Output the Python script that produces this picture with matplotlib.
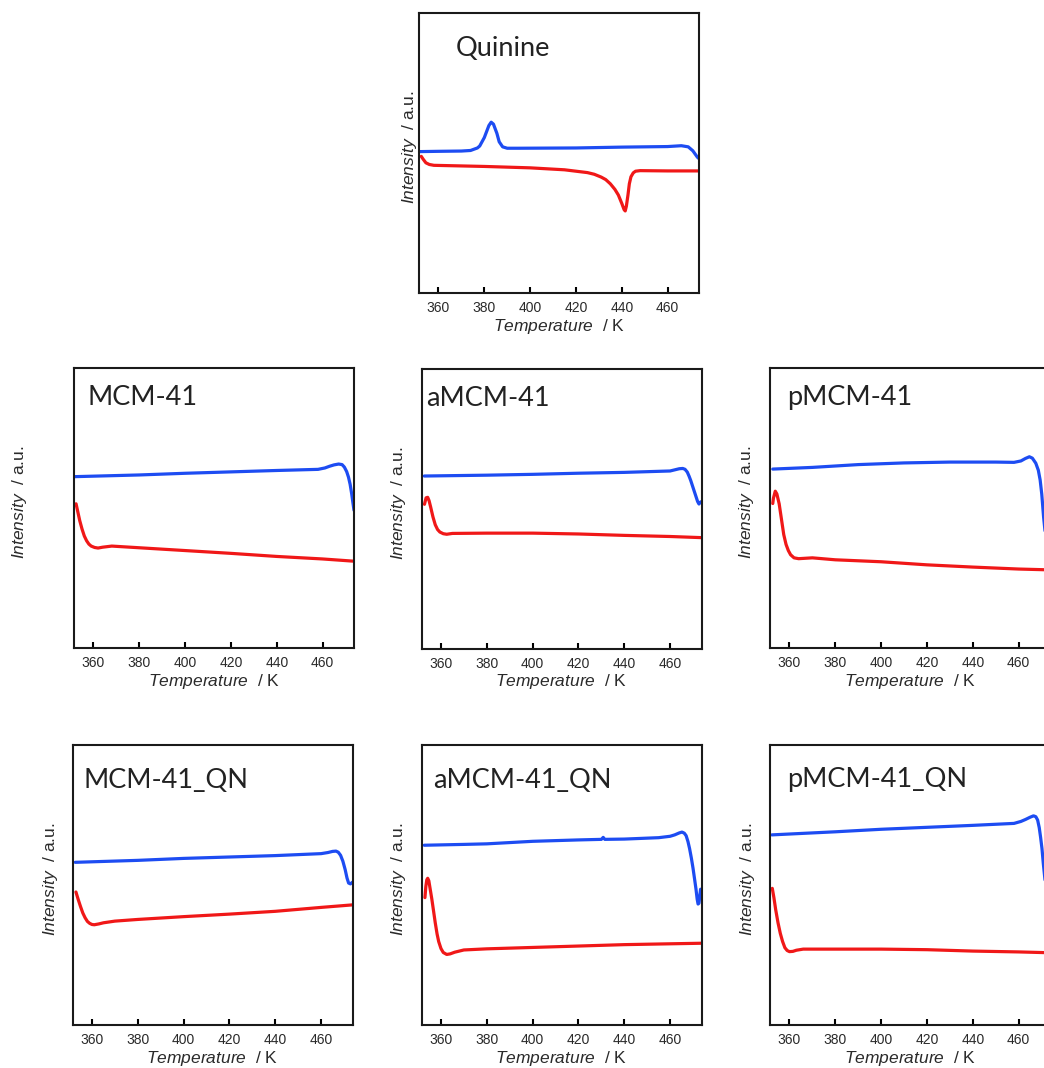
import matplotlib
matplotlib.use("Agg")
import matplotlib.pyplot as plt

plt.rcParams['font.family'] = ['Liberation Sans', 'DejaVu Sans']
plt.rcParams['mathtext.fontset'] = 'custom'
plt.rcParams['mathtext.it'] = 'Liberation Sans:italic'
plt.rcParams['mathtext.rm'] = 'Liberation Sans'

# ---------------- data (temperature K, intensity in % of axis height) ----------------
quinine_blue_T = [352, 360, 370, 374, 377, 378, 380, 382, 383, 384, 385.5, 386.5, 388, 390, 395, 420, 440, 460, 466, 469, 471, 473, 473.7]
quinine_blue_I = [50.5, 50.6, 50.7, 50.9, 51.8, 52.5, 55.5, 59.8, 61.0, 60.3, 57.0, 54.0, 52.2, 51.7, 51.7, 51.8, 52.1, 52.3, 52.6, 52.2, 50.8, 48.5, 48.0]
quinine_red_T = [352.5, 353.3, 354.5, 356, 358, 380, 400, 415, 425, 428, 431, 433, 435, 437, 438.5, 440, 441, 441.5, 442, 442.7, 443.3, 444, 445, 446, 448, 460, 473.7]
quinine_red_I = [48.8, 47.8, 46.5, 45.9, 45.6, 45.2, 44.7, 44.0, 43.0, 42.4, 41.4, 40.5, 39.0, 37.0, 35.0, 32.0, 29.8, 29.3, 31.0, 35.0, 39.0, 41.5, 42.9, 43.5, 43.7, 43.6, 43.6]

mcm_blue_T = [352, 380, 400, 420, 440, 458, 461, 463, 465, 467, 468.5, 469.5, 470.5, 471.3, 472, 472.7, 473.2, 473.7]
mcm_blue_I = [61.2, 61.8, 62.4, 62.9, 63.4, 63.8, 64.3, 64.9, 65.4, 65.7, 65.5, 64.6, 63.0, 61.0, 58.5, 55.0, 52.0, 49.2]
mcm_red_T = [352.4, 353.2, 354, 355, 356, 357, 358, 359, 360.5, 362, 364, 368, 380, 400, 420, 440, 460, 473.7]
mcm_red_I = [51.5, 48.5, 45.5, 42.5, 40.0, 38.3, 37.1, 36.4, 35.9, 35.7, 36.0, 36.4, 35.8, 34.8, 33.8, 32.7, 31.8, 31.0]

amcm_blue_T = [352.7, 380, 400, 420, 440, 460, 462, 464, 465.5, 466.5, 467.5, 468.3, 469, 470, 471, 472, 472.6, 473.1, 473.5]
amcm_blue_I = [61.6, 61.9, 62.2, 62.6, 62.9, 63.4, 63.8, 64.2, 64.3, 64.0, 63.0, 61.5, 60.0, 57.5, 55.0, 52.5, 51.6, 52.2, 52.4]
amcm_red_T = [352.8, 353.5, 354.2, 354.8, 355.5, 356.5, 357.5, 358.5, 359.5, 361, 362.5, 365, 380, 400, 420, 440, 460, 473.5]
amcm_red_I = [51.5, 53.8, 54.0, 52.8, 50.5, 47.0, 44.2, 42.5, 41.6, 41.0, 40.8, 41.1, 41.2, 41.2, 40.9, 40.4, 40.0, 39.6]

pmcm_blue_T = [352.7, 370, 390, 410, 430, 450, 458, 461, 463, 464.7, 466, 467.5, 468.6, 469.4, 470.1, 470.9, 472, 473.7]
pmcm_blue_I = [63.9, 64.5, 65.5, 66.1, 66.4, 66.4, 66.3, 66.8, 67.7, 68.3, 67.8, 66.0, 63.5, 60.0, 55.0, 46.8, 38.0, 30.0]
pmcm_red_T = [352.7, 353, 353.8, 354.5, 355.5, 356.5, 357.5, 358.5, 359.5, 360.5, 362, 364, 370, 380, 400, 420, 440, 460, 473.7]
pmcm_red_I = [51.6, 53.5, 56.0, 55.0, 51.5, 46.0, 40.5, 37.0, 34.8, 33.3, 32.2, 31.9, 32.2, 31.5, 30.8, 29.7, 28.9, 28.2, 27.9]

mcmqn_blue_T = [352.7, 380, 400, 420, 440, 460, 463, 465, 466.5, 467.5, 468.5, 469.5, 470.5, 471.3, 472, 472.8, 473.7]
mcmqn_blue_I = [58.1, 58.8, 59.5, 60.0, 60.5, 61.2, 61.6, 62.0, 62.1, 61.7, 60.6, 58.5, 55.5, 52.5, 50.7, 50.4, 51.0]
mcmqn_red_T = [353, 354, 355, 356, 357, 358, 359, 360, 361, 363, 365, 370, 380, 400, 420, 440, 460, 473.7]
mcmqn_red_I = [47.5, 44.8, 42.3, 40.0, 38.3, 37.0, 36.3, 35.9, 35.8, 36.1, 36.5, 37.1, 37.7, 38.7, 39.6, 40.6, 42.0, 42.9]

amcmqn_blue_T = [352.7, 370, 380, 400, 420, 430, 430.8, 431.5, 440, 455, 460, 462, 464, 465.2, 466.2, 467, 467.8, 468.5, 469.3, 470, 470.7, 471.3, 471.8, 472.2, 472.6, 473, 473.3, 473.7]
amcmqn_blue_I = [64.2, 64.5, 64.7, 65.6, 66.1, 66.3, 67.0, 66.3, 66.4, 66.9, 67.4, 67.9, 68.6, 68.9, 68.5, 67.6, 65.5, 63.0, 59.5, 56.0, 52.0, 48.5, 45.0, 43.2, 43.5, 46.5, 48.5, 47.0]
amcmqn_red_T = [353, 353.4, 353.8, 354.2, 354.7, 355.3, 356, 356.8, 357.5, 358.3, 359, 360, 361, 362.5, 364, 366, 370, 380, 400, 420, 440, 460, 473.7]
amcmqn_red_I = [45.5, 49.5, 51.8, 52.4, 51.5, 48.5, 45.0, 40.5, 36.5, 32.5, 29.8, 27.3, 25.9, 25.2, 25.4, 26.0, 26.8, 27.2, 27.7, 28.2, 28.7, 29.0, 29.2]

pmcmqn_blue_T = [352.3, 380, 400, 420, 440, 458, 461, 463, 465, 466.5, 467.5, 468.3, 469, 469.6, 470.2, 470.8, 472, 473.7]
pmcmqn_blue_I = [67.9, 69.0, 69.9, 70.6, 71.3, 72.0, 72.7, 73.4, 74.2, 74.7, 74.4, 73.2, 70.5, 67.0, 63.0, 57.5, 48.0, 40.0]
pmcmqn_red_T = [352.5, 353.2, 354, 355, 356, 357, 358, 359, 360, 361.5, 363, 366, 380, 400, 420, 440, 460, 473.7]
pmcmqn_red_I = [48.8, 45.5, 41.1, 36.5, 32.7, 29.8, 27.6, 26.6, 26.2, 26.3, 26.7, 27.1, 27.1, 27.1, 26.9, 26.4, 26.1, 25.8]

titles = ["Quinine", "MCM-41", "aMCM-41", "pMCM-41", "MCM-41_QN", "aMCM-41_QN", "pMCM-41_QN"]
series = [
    (quinine_blue_T, quinine_blue_I, quinine_red_T, quinine_red_I),
    (mcm_blue_T, mcm_blue_I, mcm_red_T, mcm_red_I),
    (amcm_blue_T, amcm_blue_I, amcm_red_T, amcm_red_I),
    (pmcm_blue_T, pmcm_blue_I, pmcm_red_T, pmcm_red_I),
    (mcmqn_blue_T, mcmqn_blue_I, mcmqn_red_T, mcmqn_red_I),
    (amcmqn_blue_T, amcmqn_blue_I, amcmqn_red_T, amcmqn_red_I),
    (pmcmqn_blue_T, pmcmqn_blue_I, pmcmqn_red_T, pmcmqn_red_I),
]
xticks = [360, 380, 400, 420, 440, 460]

# ---------------- layout (pixels) ----------------
W, H = 1044, 1068
boxes = [(419, 13), (74, 368), (421.5, 368.5), (770, 368), (72.5, 745), (421.5, 745), (770, 745)]
box_w, box_h = 280, 280
ylabel_off = [0, 45, 14, 14, 13, 14, 13]
title_pos = [(37, 43), (14, 37), (4.5, 37), (17, 37), (11.5, 43), (11.5, 43), (17, 42)]

BLUE = '#1d4cf2'
RED = '#f01818'

fig = plt.figure(figsize=(W / 100, H / 100), dpi=100)

for i, (title, (bT, bI, rT, rI)) in enumerate(zip(titles, series)):
    lx, ty = boxes[i]
    ax = fig.add_axes([lx / W, 1 - (ty + box_h) / H, box_w / W, box_h / H])
    ax.plot(bT, bI, color=BLUE, lw=2.3, solid_capstyle='round', solid_joinstyle='round')
    ax.plot(rT, rI, color=RED, lw=2.3, solid_capstyle='round', solid_joinstyle='round')
    ax.set_xlim(351.5, 473.7)
    ax.set_ylim(0, 100)
    ax.set_xticks(xticks)
    ax.set_yticks([])
    ax.tick_params(axis='x', direction='in', length=4.5, width=1.5, pad=6,
                   labelsize=10, labelcolor='#2a2a2a', top=False)
    for sp in ax.spines.values():
        sp.set_linewidth(1.5)
        sp.set_color('#1a1a1a')
    ax.set_xlabel(r"$\it{Temperature}$  / K", fontsize=12.5, color='#2a2a2a', labelpad=1)
    ax.set_ylabel(r"$\it{Intensity}$  / a.u.", fontsize=12.5, color='#2a2a2a')
    ax.yaxis.set_label_coords(-ylabel_off[i] / box_w, 0.52)
    tx, tb = title_pos[i]
    ax.text(tx / box_w, 1 - tb / box_h, title, transform=ax.transAxes,
            ha='left', va='baseline', fontsize=19.5, color='#222222', fontweight='normal',
            family=['Lato', 'Noto Sans CJK JP', 'DejaVu Sans'])

fig.savefig('out.png', dpi=100)
